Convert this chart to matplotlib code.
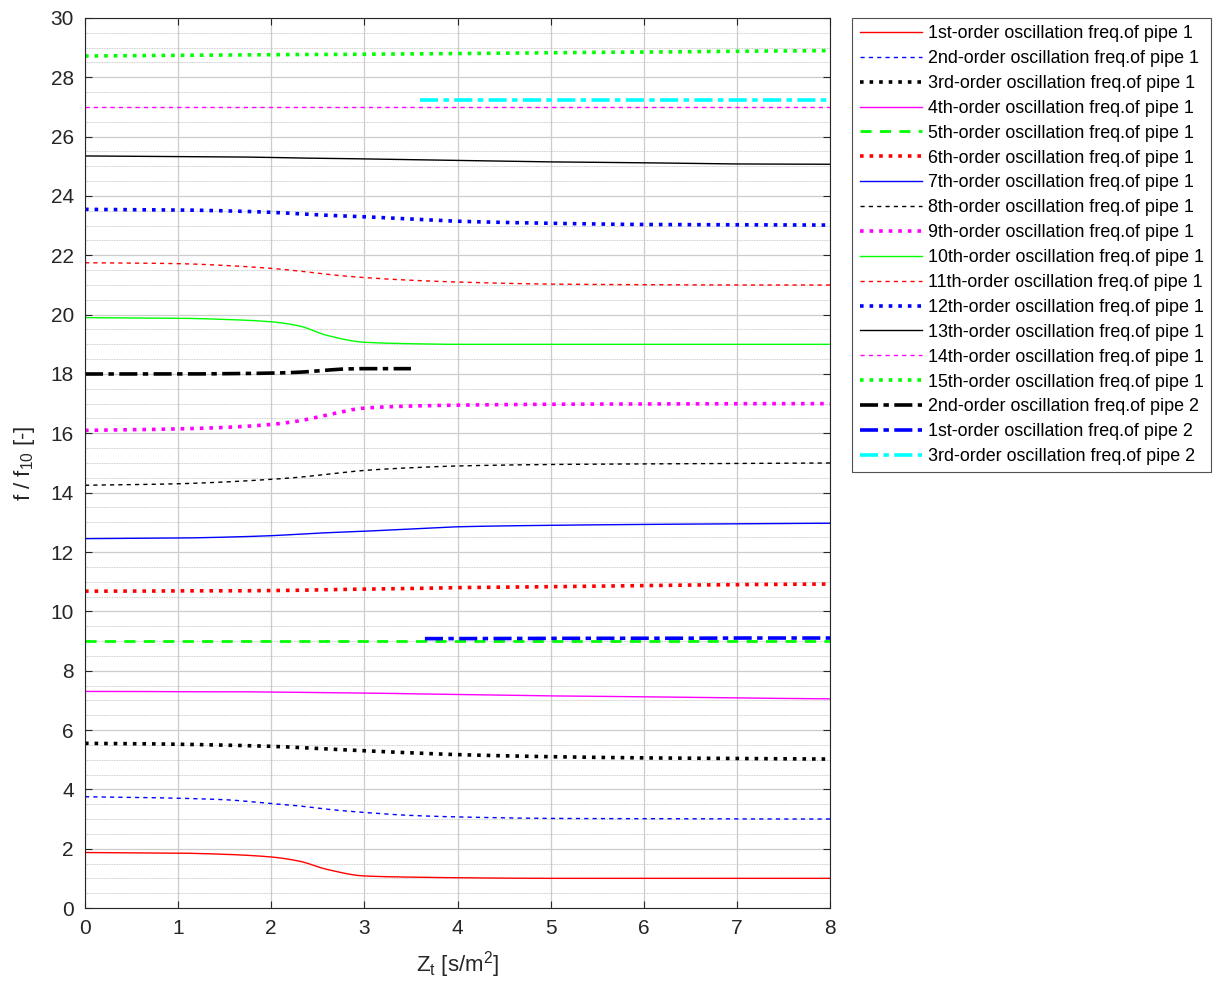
import matplotlib.pyplot as plt
import numpy as np
from matplotlib.ticker import MultipleLocator

plt.rcParams["font.family"] = ["Liberation Sans", "DejaVu Sans"]

# ── Datos ───────────────────────────────────────────────────────────────────
zt = [0, 0.5, 1, 1.5, 2, 2.3, 2.6, 3, 3.5, 4, 5, 6, 7, 8]

p1_o1 = [1.87, 1.86, 1.85, 1.81, 1.72, 1.58, 1.30, 1.08, 1.04, 1.02, 1.0, 1.0, 1.0, 1.0]
p1_o2 = [3.75, 3.73, 3.70, 3.65, 3.52, 3.44, 3.33, 3.22, 3.12, 3.07, 3.02, 3.01, 3.0, 3.0]
p1_o3 = [5.55, 5.54, 5.52, 5.49, 5.45, 5.41, 5.36, 5.30, 5.23, 5.17, 5.10, 5.06, 5.04, 5.02]
p1_o4 = [7.30, 7.30, 7.29, 7.29, 7.28, 7.27, 7.26, 7.25, 7.22, 7.20, 7.15, 7.12, 7.08, 7.05]
p1_o5 = [9.0] * 14
p1_o6 = [10.68, 10.68, 10.69, 10.69, 10.70, 10.71, 10.73, 10.75, 10.77, 10.80, 10.83, 10.87, 10.90, 10.92]
p1_o7 = [12.45, 12.46, 12.47, 12.50, 12.55, 12.60, 12.65, 12.70, 12.78, 12.85, 12.90, 12.93, 12.95, 12.97]
p1_o8 = [14.25, 14.27, 14.30, 14.36, 14.45, 14.52, 14.62, 14.75, 14.84, 14.90, 14.95, 14.97, 14.99, 15.0]
p1_o9 = [16.10, 16.12, 16.15, 16.20, 16.30, 16.42, 16.62, 16.85, 16.92, 16.95, 16.98, 16.99, 17.0, 17.0]
p1_o10 = [19.90, 19.89, 19.88, 19.84, 19.76, 19.62, 19.30, 19.07, 19.02, 19.0, 19.0, 19.0, 19.0, 19.0]
p1_o11 = [21.75, 21.74, 21.72, 21.66, 21.56, 21.47, 21.36, 21.25, 21.16, 21.10, 21.03, 21.01, 21.0, 21.0]
p1_o12 = [23.55, 23.54, 23.53, 23.50, 23.45, 23.40, 23.35, 23.30, 23.22, 23.15, 23.08, 23.04, 23.03, 23.02]
p1_o13 = [25.35, 25.34, 25.33, 25.32, 25.30, 25.28, 25.27, 25.25, 25.22, 25.20, 25.15, 25.12, 25.08, 25.07]
p1_o14 = [27.0] * 14
p1_o15 = [28.72, 28.73, 28.74, 28.75, 28.76, 28.77, 28.77, 28.78, 28.79, 28.80, 28.83, 28.85, 28.88, 28.90]

zt_p2_o2 = [0, 1, 1.5, 2, 2.3, 2.6, 2.8, 3, 3.5]
p2_o2 = [18.0, 18.0, 18.01, 18.03, 18.06, 18.13, 18.17, 18.18, 18.18]
zt_p2_o1 = [3.65, 4, 5, 6, 7, 8]
p2_o1 = [9.08, 9.08, 9.09, 9.09, 9.1, 9.1]
zt_p2_o3 = [3.6, 4, 5, 6, 7, 8]
p2_o3 = [27.25, 27.25, 27.25, 27.25, 27.25, 27.25]

labels = [
    "1st-order oscillation freq.of pipe 1",
    "2nd-order oscillation freq.of pipe 1",
    "3rd-order oscillation freq.of pipe 1",
    "4th-order oscillation freq.of pipe 1",
    "5th-order oscillation freq.of pipe 1",
    "6th-order oscillation freq.of pipe 1",
    "7th-order oscillation freq.of pipe 1",
    "8th-order oscillation freq.of pipe 1",
    "9th-order oscillation freq.of pipe 1",
    "10th-order oscillation freq.of pipe 1",
    "11th-order oscillation freq.of pipe 1",
    "12th-order oscillation freq.of pipe 1",
    "13th-order oscillation freq.of pipe 1",
    "14th-order oscillation freq.of pipe 1",
    "15th-order oscillation freq.of pipe 1",
    "2nd-order oscillation freq.of pipe 2",
    "1st-order oscillation freq.of pipe 2",
    "3rd-order oscillation freq.of pipe 2",
]

# ── Estilos (color, tipo de línea, grosor) ──────────────────────────────────
thin = 1.0
thick = 2.6
dashdot = (0, (5, 1.5, 1.5, 1.5))
styles = [
    ("#FF0000", "-", thin),
    ("#0000FF", (0, (3, 3)), thin),
    ("#000000", ":", thick),
    ("#FF00FF", "-", thin),
    ("#00FF00", (0, (4, 3)), 2.0),
    ("#FF0000", ":", thick),
    ("#0000FF", "-", thin),
    ("#000000", (0, (3, 3)), thin),
    ("#FF00FF", ":", thick),
    ("#00FF00", "-", thin),
    ("#FF0000", (0, (3, 3)), thin),
    ("#0000FF", ":", thick),
    ("#000000", "-", thin),
    ("#FF00FF", (0, (3, 3)), thin),
    ("#00FF00", ":", thick),
    ("#000000", dashdot, thick),
    ("#0000FF", dashdot, thick),
    ("#00FFFF", dashdot, thick),
]

series = [
    (zt, p1_o1), (zt, p1_o2), (zt, p1_o3), (zt, p1_o4), (zt, p1_o5),
    (zt, p1_o6), (zt, p1_o7), (zt, p1_o8), (zt, p1_o9), (zt, p1_o10),
    (zt, p1_o11), (zt, p1_o12), (zt, p1_o13), (zt, p1_o14), (zt, p1_o15),
    (zt_p2_o2, p2_o2), (zt_p2_o1, p2_o1), (zt_p2_o3, p2_o3),
]


def _pchip(x, y, xs):
    """Interpolación cúbica monótona (Fritsch-Carlson) para suavizar las curvas."""
    x = np.asarray(x, dtype=float)
    y = np.asarray(y, dtype=float)
    h = np.diff(x)
    delta = np.diff(y) / h
    d = np.zeros_like(y)
    for k in range(1, len(x) - 1):
        if delta[k - 1] * delta[k] > 0:
            w1 = 2 * h[k] + h[k - 1]
            w2 = h[k] + 2 * h[k - 1]
            d[k] = (w1 + w2) / (w1 / delta[k - 1] + w2 / delta[k])
    d[0] = delta[0]
    d[-1] = delta[-1]
    idx = np.clip(np.searchsorted(x, xs) - 1, 0, len(x) - 2)
    t = (xs - x[idx]) / h[idx]
    h00 = 2 * t**3 - 3 * t**2 + 1
    h10 = t**3 - 2 * t**2 + t
    h01 = -2 * t**3 + 3 * t**2
    h11 = t**3 - t**2
    return h00 * y[idx] + h10 * h[idx] * d[idx] + h01 * y[idx + 1] + h11 * h[idx] * d[idx + 1]


fig = plt.figure(figsize=(12.19, 9.85), dpi=100, facecolor="white")
ax = fig.add_axes([85 / 1219, 77 / 985, 745 / 1219, 890 / 985])

for (x, y), (color, ls, lw), label in zip(series, styles, labels):
    xs = np.linspace(min(x), max(x), 300)
    ys = _pchip(x, y, xs)
    ax.plot(xs, ys, color=color, linestyle=ls, linewidth=lw, label=label)

ax.set_xlim(0, 8)
ax.set_ylim(0, 30)
ax.xaxis.set_major_locator(MultipleLocator(1))
ax.yaxis.set_major_locator(MultipleLocator(2))
ax.yaxis.set_minor_locator(MultipleLocator(0.5))
ax.grid(True, which="major", color="#CCCCCC", linewidth=0.9, linestyle="-")
ax.grid(True, which="minor", axis="y", color="#BBBBBB", linewidth=0.6, linestyle=(0, (1, 1)))
ax.set_axisbelow(True)
ax.tick_params(which="major", direction="in", top=True, right=True, length=5,
               labelsize=15, colors="#262626", width=0.8, pad=8)
ax.tick_params(which="minor", length=0)
for spine in ax.spines.values():
    spine.set_color("#262626")
    spine.set_linewidth(0.8)

ax.set_xlabel(r"Z$_\mathregular{t}$ [s/m$^\mathregular{2}$]", fontsize=16, color="#262626", labelpad=8)
ax.set_ylabel(r"f / f$_\mathregular{10}$ [-]", fontsize=16, color="#262626", labelpad=10)

leg = ax.legend(loc="upper left", bbox_to_anchor=(1.03, 1.0), fontsize=12.9,
                frameon=True, fancybox=False, edgecolor="#262626",
                handlelength=3.5, handletextpad=0.3, labelspacing=0.44,
                borderaxespad=0.0, borderpad=0.4)
leg.get_frame().set_linewidth(0.8)

plt.savefig("out.png", dpi=100, facecolor="white")
plt.close(fig)
